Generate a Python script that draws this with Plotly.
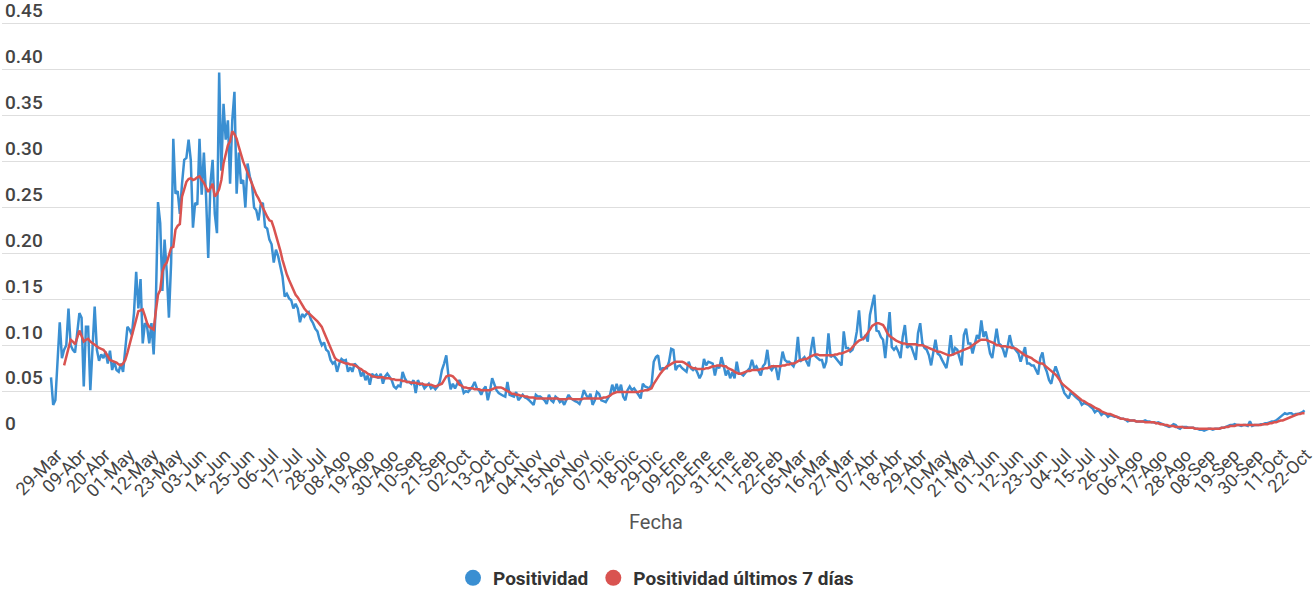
import pandas as pd
import plotly.graph_objects as go

start_date = "2020-03-29"

positividad = [
    0.065, 0.035, 0.040, 0.080, 0.125, 0.086, 0.095, 0.100, 0.140, 0.100,
    0.095, 0.092, 0.115, 0.135, 0.130, 0.055, 0.120, 0.120, 0.051, 0.100,
    0.142, 0.095, 0.083, 0.090, 0.086, 0.093, 0.080, 0.094, 0.073, 0.082,
    0.073, 0.071, 0.080, 0.071, 0.094, 0.120, 0.117, 0.111, 0.135, 0.180,
    0.140, 0.172, 0.102, 0.124, 0.120, 0.102, 0.124, 0.090, 0.145, 0.256,
    0.233, 0.159, 0.215, 0.180, 0.130, 0.190, 0.325, 0.265, 0.268, 0.243,
    0.276, 0.302, 0.304, 0.324, 0.302, 0.228, 0.255, 0.253, 0.325, 0.264,
    0.310, 0.262, 0.195, 0.276, 0.302, 0.243, 0.222, 0.397, 0.290, 0.363,
    0.324, 0.345, 0.276, 0.345, 0.376, 0.265, 0.310, 0.276, 0.280, 0.250,
    0.298, 0.284, 0.276, 0.250, 0.247, 0.236, 0.253, 0.255, 0.229, 0.227,
    0.215, 0.210, 0.190, 0.204, 0.197, 0.185, 0.175, 0.153, 0.156, 0.151,
    0.149, 0.140, 0.145, 0.140, 0.125, 0.134, 0.131, 0.134, 0.136, 0.128,
    0.124, 0.118, 0.115, 0.106, 0.100, 0.103, 0.095, 0.093, 0.084, 0.080,
    0.082, 0.071, 0.080, 0.085, 0.083, 0.084, 0.071, 0.076, 0.071, 0.080,
    0.078, 0.075, 0.066, 0.071, 0.062, 0.067, 0.057, 0.069, 0.066, 0.068,
    0.064, 0.069, 0.058, 0.066, 0.069, 0.066, 0.062, 0.055, 0.053, 0.056,
    0.055, 0.071, 0.064, 0.060, 0.060, 0.058, 0.062, 0.048, 0.062, 0.057,
    0.058, 0.053, 0.056, 0.058, 0.053, 0.055, 0.052, 0.055, 0.060, 0.073,
    0.080, 0.089, 0.066, 0.052, 0.058, 0.053, 0.058, 0.062, 0.057, 0.048,
    0.050, 0.049, 0.052, 0.055, 0.060, 0.053, 0.051, 0.046, 0.052, 0.055,
    0.040, 0.050, 0.064, 0.058, 0.051, 0.048, 0.046, 0.045, 0.044, 0.060,
    0.046, 0.045, 0.044, 0.049, 0.040, 0.043, 0.046, 0.043, 0.042, 0.040,
    0.038, 0.035, 0.046, 0.044, 0.044, 0.042, 0.040, 0.036, 0.046, 0.040,
    0.038, 0.044, 0.042, 0.038, 0.040, 0.035, 0.040, 0.046, 0.042, 0.040,
    0.039, 0.038, 0.036, 0.042, 0.051, 0.046, 0.042, 0.047, 0.035, 0.040,
    0.049, 0.047, 0.040, 0.039, 0.038, 0.042, 0.046, 0.057, 0.049, 0.058,
    0.049, 0.057, 0.044, 0.040, 0.051, 0.055, 0.051, 0.053, 0.050, 0.046,
    0.042, 0.058, 0.055, 0.054, 0.053, 0.057, 0.082, 0.087, 0.089, 0.073,
    0.075, 0.075, 0.075, 0.082, 0.096, 0.095, 0.073, 0.077, 0.078, 0.075,
    0.073, 0.071, 0.082, 0.075, 0.073, 0.075, 0.070, 0.064, 0.069, 0.085,
    0.078, 0.082, 0.081, 0.080, 0.067, 0.078, 0.075, 0.087, 0.078, 0.067,
    0.073, 0.064, 0.071, 0.064, 0.082, 0.069, 0.069, 0.067, 0.070, 0.073,
    0.075, 0.084, 0.075, 0.077, 0.071, 0.067, 0.077, 0.080, 0.095, 0.076,
    0.073, 0.077, 0.075, 0.062, 0.078, 0.093, 0.084, 0.082, 0.082, 0.080,
    0.077, 0.084, 0.109, 0.082, 0.085, 0.087, 0.082, 0.077, 0.095, 0.109,
    0.088, 0.086, 0.084, 0.084, 0.075, 0.082, 0.113, 0.087, 0.089, 0.087,
    0.084, 0.080, 0.078, 0.115, 0.097, 0.097, 0.093, 0.095, 0.102, 0.115,
    0.138, 0.109, 0.107, 0.111, 0.104, 0.133, 0.145, 0.155, 0.116, 0.115,
    0.109, 0.106, 0.086, 0.109, 0.136, 0.098, 0.095, 0.098, 0.093, 0.086,
    0.109, 0.122, 0.097, 0.100, 0.098, 0.091, 0.084, 0.113, 0.124, 0.102,
    0.097, 0.095, 0.089, 0.078, 0.092, 0.106, 0.091, 0.089, 0.084, 0.080,
    0.075, 0.089, 0.111, 0.089, 0.097, 0.095, 0.086, 0.078, 0.111, 0.118,
    0.102, 0.102, 0.091, 0.100, 0.111, 0.107, 0.127, 0.109, 0.115, 0.104,
    0.091, 0.086, 0.102, 0.118, 0.102, 0.100, 0.095, 0.087, 0.098, 0.111,
    0.100, 0.097, 0.095, 0.091, 0.082, 0.091, 0.098, 0.080, 0.080, 0.078,
    0.078, 0.073, 0.068, 0.086, 0.092, 0.077, 0.071, 0.062, 0.058, 0.069,
    0.077, 0.070, 0.062, 0.055, 0.048, 0.045, 0.042, 0.049, 0.046, 0.044,
    0.042, 0.040, 0.035, 0.037, 0.036, 0.035, 0.033, 0.031, 0.027, 0.029,
    0.028, 0.024, 0.026, 0.025, 0.022, 0.024, 0.023, 0.022, 0.022, 0.021,
    0.020, 0.020, 0.019, 0.017, 0.018, 0.018, 0.018, 0.017, 0.017, 0.017,
    0.017, 0.018, 0.017, 0.017, 0.016, 0.016, 0.015, 0.016, 0.015, 0.014,
    0.013, 0.012, 0.011, 0.012, 0.014, 0.013, 0.010, 0.009, 0.011, 0.011,
    0.011, 0.010, 0.010, 0.010, 0.009, 0.009, 0.008, 0.008, 0.007, 0.008,
    0.009, 0.009, 0.008, 0.009, 0.009, 0.009, 0.010, 0.010, 0.011, 0.012,
    0.013, 0.013, 0.014, 0.013, 0.013, 0.012, 0.013, 0.013, 0.012, 0.017,
    0.012, 0.013, 0.013, 0.013, 0.014, 0.014, 0.015, 0.015, 0.016, 0.017,
    0.017, 0.018, 0.020, 0.022, 0.025, 0.026, 0.025, 0.026, 0.026, 0.024,
    0.025, 0.025, 0.026, 0.027, 0.029,
]

positividad_7d = [
    None, None, None, None, None, None, 0.078, 0.087, 0.097, 0.106,
    0.104, 0.101, 0.108, 0.116, 0.110, 0.104, 0.106, 0.107, 0.104, 0.102,
    0.101, 0.099, 0.097, 0.096, 0.095, 0.092, 0.088, 0.084, 0.083, 0.082,
    0.081, 0.079, 0.078, 0.080, 0.084, 0.092, 0.101, 0.112, 0.122, 0.130,
    0.137, 0.138, 0.139, 0.132, 0.124, 0.120, 0.118, 0.117, 0.137, 0.155,
    0.160, 0.180, 0.187, 0.190, 0.198, 0.206, 0.207, 0.226, 0.230, 0.232,
    0.262, 0.270, 0.278, 0.281, 0.282, 0.280, 0.281, 0.283, 0.284, 0.280,
    0.277, 0.272, 0.267, 0.271, 0.276, 0.262, 0.265, 0.270, 0.280, 0.298,
    0.308, 0.318, 0.322, 0.333, 0.330, 0.325, 0.316, 0.307, 0.300, 0.294,
    0.288, 0.282, 0.276, 0.269, 0.264, 0.260, 0.255, 0.250, 0.244, 0.240,
    0.236, 0.235, 0.228, 0.220, 0.211, 0.203, 0.193, 0.184, 0.177, 0.171,
    0.165, 0.160, 0.155, 0.152, 0.148, 0.143, 0.140, 0.137, 0.135, 0.133,
    0.131, 0.129, 0.126, 0.123, 0.120, 0.114, 0.108, 0.102, 0.096, 0.091,
    0.086, 0.084, 0.083, 0.082, 0.081, 0.080, 0.080, 0.079, 0.079, 0.078,
    0.077, 0.075, 0.074, 0.072, 0.071, 0.069, 0.068, 0.066, 0.066, 0.065,
    0.065, 0.065, 0.065, 0.064, 0.064, 0.064, 0.063, 0.063, 0.062, 0.062,
    0.062, 0.061, 0.061, 0.060, 0.060, 0.059, 0.059, 0.059, 0.058, 0.058,
    0.058, 0.057, 0.057, 0.057, 0.057, 0.056, 0.055, 0.056, 0.057, 0.058,
    0.062, 0.066, 0.067, 0.067, 0.066, 0.064, 0.061, 0.057, 0.056, 0.054,
    0.054, 0.053, 0.053, 0.053, 0.052, 0.052, 0.052, 0.051, 0.051, 0.051,
    0.051, 0.051, 0.052, 0.053, 0.054, 0.054, 0.054, 0.053, 0.051, 0.050,
    0.049, 0.047, 0.047, 0.046, 0.046, 0.045, 0.045, 0.044, 0.044, 0.043,
    0.043, 0.043, 0.042, 0.042, 0.042, 0.042, 0.042, 0.042, 0.042, 0.042,
    0.042, 0.042, 0.042, 0.041, 0.041, 0.041, 0.041, 0.042, 0.042, 0.041,
    0.041, 0.041, 0.041, 0.041, 0.042, 0.042, 0.042, 0.042, 0.042, 0.042,
    0.042, 0.042, 0.042, 0.043, 0.043, 0.044, 0.045, 0.047, 0.048, 0.049,
    0.049, 0.049, 0.049, 0.049, 0.049, 0.049, 0.049, 0.049, 0.049, 0.049,
    0.050, 0.050, 0.051, 0.051, 0.052, 0.053, 0.058, 0.062, 0.066, 0.069,
    0.072, 0.075, 0.077, 0.078, 0.080, 0.081, 0.082, 0.082, 0.082, 0.082,
    0.081, 0.079, 0.077, 0.076, 0.075, 0.075, 0.074, 0.074, 0.074, 0.074,
    0.075, 0.075, 0.076, 0.077, 0.077, 0.078, 0.078, 0.078, 0.077, 0.077,
    0.075, 0.074, 0.073, 0.071, 0.070, 0.069, 0.069, 0.070, 0.071, 0.072,
    0.072, 0.073, 0.073, 0.073, 0.073, 0.074, 0.074, 0.075, 0.075, 0.076,
    0.077, 0.077, 0.077, 0.077, 0.077, 0.078, 0.078, 0.079, 0.079, 0.080,
    0.080, 0.081, 0.083, 0.084, 0.084, 0.085, 0.085, 0.087, 0.088, 0.089,
    0.090, 0.090, 0.089, 0.089, 0.089, 0.089, 0.089, 0.089, 0.089, 0.090,
    0.090, 0.091, 0.091, 0.092, 0.093, 0.094, 0.095, 0.098, 0.101, 0.103,
    0.105, 0.106, 0.107, 0.110, 0.113, 0.117, 0.121, 0.123, 0.124, 0.124,
    0.123, 0.122, 0.118, 0.113, 0.110, 0.108, 0.106, 0.105, 0.104, 0.103,
    0.102, 0.102, 0.101, 0.101, 0.101, 0.101, 0.101, 0.100, 0.100, 0.100,
    0.099, 0.098, 0.097, 0.096, 0.095, 0.094, 0.093, 0.093, 0.092, 0.091,
    0.090, 0.089, 0.089, 0.090, 0.091, 0.092, 0.093, 0.094, 0.095, 0.096,
    0.097, 0.098, 0.100, 0.102, 0.104, 0.105, 0.106, 0.106, 0.106, 0.105,
    0.104, 0.103, 0.102, 0.100, 0.100, 0.099, 0.099, 0.099, 0.098, 0.098,
    0.097, 0.097, 0.096, 0.094, 0.092, 0.091, 0.089, 0.088, 0.087, 0.086,
    0.084, 0.082, 0.081, 0.080, 0.080, 0.078, 0.076, 0.075, 0.072, 0.070,
    0.068, 0.065, 0.061, 0.058, 0.056, 0.054, 0.051, 0.049, 0.047, 0.045,
    0.043, 0.042, 0.040, 0.039, 0.037, 0.036, 0.035, 0.033, 0.032, 0.031,
    0.030, 0.028, 0.027, 0.026, 0.025, 0.025, 0.024, 0.023, 0.022, 0.021,
    0.020, 0.020, 0.019, 0.019, 0.018, 0.018, 0.018, 0.017, 0.017, 0.017,
    0.017, 0.016, 0.016, 0.016, 0.016, 0.016, 0.015, 0.015, 0.014, 0.014,
    0.013, 0.013, 0.012, 0.012, 0.012, 0.011, 0.011, 0.011, 0.011, 0.010,
    0.010, 0.010, 0.010, 0.010, 0.009, 0.009, 0.009, 0.009, 0.009, 0.0085,
    0.0085, 0.009, 0.009, 0.009, 0.009, 0.009, 0.010, 0.010, 0.011, 0.011,
    0.012, 0.012, 0.012, 0.013, 0.013, 0.013, 0.013, 0.013, 0.013, 0.013,
    0.013, 0.013, 0.013, 0.013, 0.013, 0.014, 0.014, 0.014, 0.015, 0.015,
    0.016, 0.016, 0.017, 0.018, 0.018, 0.019, 0.020, 0.021, 0.022, 0.023,
    0.024, 0.025, 0.025, 0.026, 0.026,
]

tick_labels = [
    "29-Mar", "09-Abr", "20-Abr", "01-May", "12-May", "23-May", "03-Jun", "14-Jun",
    "25-Jun", "06-Jul", "17-Jul", "28-Jul", "08-Ago", "19-Ago", "30-Ago", "10-Sep",
    "21-Sep", "02-Oct", "13-Oct", "24-Oct", "04-Nov", "15-Nov", "26-Nov", "07-Dic",
    "18-Dic", "29-Dic", "09-Ene", "20-Ene", "31-Ene", "11-Feb", "22-Feb", "05-Mar",
    "16-Mar", "27-Mar", "07-Abr", "18-Abr", "29-Abr", "10-May", "21-May", "01-Jun",
    "12-Jun", "23-Jun", "04-Jul", "15-Jul", "26-Jul", "06-Ago", "17-Ago", "28-Ago",
    "08-Sep", "19-Sep", "30-Sep", "11-Oct", "22-Oct",
]
y_ticks = [0, 0.05, 0.10, 0.15, 0.20, 0.25, 0.30, 0.35, 0.40, 0.45]
y_tick_text = ["0", "0.05", "0.10", "0.15", "0.20", "0.25", "0.30", "0.35", "0.40", "0.45"]

BLUE = "#3a8fd2"
RED = "#d95350"
FONT = "Roboto"

dates_blue = pd.date_range(start_date, periods=len(positividad), freq="D")
dates_red = pd.date_range(start_date, periods=len(positividad_7d), freq="D")
tick_dates = pd.date_range(start_date, periods=len(tick_labels), freq="11D")

fig = go.Figure()
fig.add_trace(go.Scatter(x=dates_blue, y=positividad, mode="lines",
                         line=dict(color=BLUE, width=2.5), showlegend=False,
                         name="Positividad"))
fig.add_trace(go.Scatter(x=dates_red, y=positividad_7d, mode="lines",
                         line=dict(color=RED, width=2.5), showlegend=False,
                         name="Positividad últimos 7 días"))
# legend entries (circle symbols)
fig.add_trace(go.Scatter(x=[None], y=[None], mode="markers", name="Positividad",
                         marker=dict(color=BLUE, size=19, symbol="circle")))
fig.add_trace(go.Scatter(x=[None], y=[None], mode="markers", name="Positividad últimos 7 días",
                         marker=dict(color=RED, size=19, symbol="circle")))

fig.update_layout(
    width=1314, height=591,
    margin=dict(l=2, r=4, t=0, b=154, autoexpand=False),
    paper_bgcolor="white", plot_bgcolor="white",
    font=dict(family=FONT, color="#333333"),
    showlegend=True,
    legend=dict(orientation="h", x=0.5, xanchor="center", y=-0.3227, yanchor="middle",
                font=dict(family=FONT, size=19, color="#333333", weight="bold"),
                itemsizing="trace", itemwidth=30, tracegroupgap=0),
    xaxis=dict(
        type="date",
        range=[pd.Timestamp(start_date) - pd.Timedelta(days=22.44),
               pd.Timestamp(start_date) + pd.Timedelta(days=576.5)],
        tickmode="array", tickvals=tick_dates, ticktext=tick_labels,
        tickangle=-45, tickfont=dict(family=FONT, size=18, color="#444444"),
        ticklabelshift=6, ticklabelstandoff=3, ticklabeloverflow="allow",
        showgrid=False, zeroline=False, showline=False, ticks="",
    ),
    yaxis=dict(
        range=[0, 0.4761],
        tickmode="array", tickvals=y_ticks, ticktext=y_tick_text,
        ticklabelposition="inside top", ticklabeloverflow="allow",
        tickfont=dict(family=FONT, size=19, color="#444444", weight=500),
        showgrid=True, gridcolor="#dedede", gridwidth=1,
        zeroline=False, showline=False, ticks="",
    ),
    annotations=[dict(text="Fecha", xref="paper", yref="paper", x=0.5, y=-0.1945,
                      xanchor="center", yanchor="middle", showarrow=False,
                      font=dict(family=FONT, size=20, color="#555555"))],
)

fig.write_html("out.html", post_script="document.body.style.margin='0';",
               config={"displayModeBar": False})
